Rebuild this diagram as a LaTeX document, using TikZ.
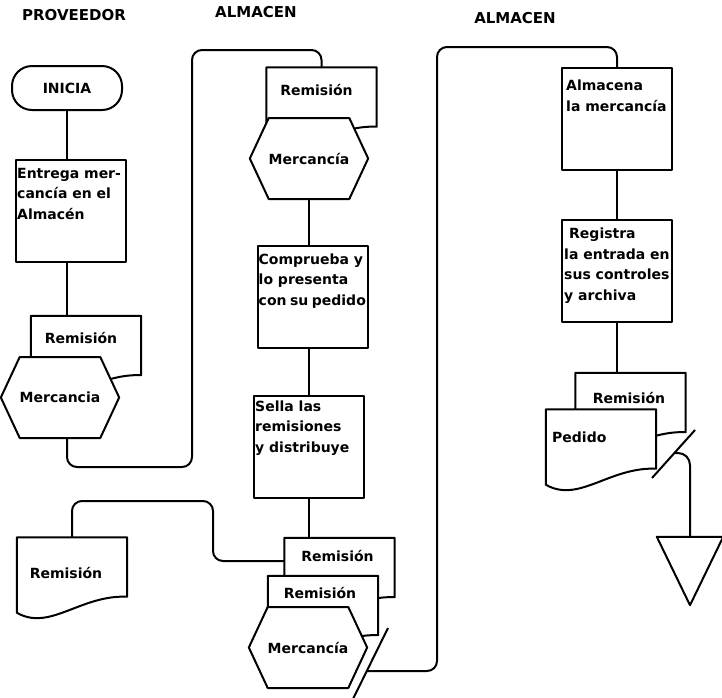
\documentclass[tikz,border=0pt]{standalone}
\usepackage{fontspec}
\setmainfont{DejaVu Sans}
\usetikzlibrary{shapes.symbols,calc}

% document outline with wavy bottom
\newcommand{\docshape}[1]{%
  \draw[flow, fill=white] (#1.north west) -- (#1.north east) -- (#1.south east)
    .. controls +(-47,-2) and +(33,19) .. ($(#1.south west)+(0,16)$) -- cycle;}

\begin{document}
\begin{tikzpicture}[x=1pt, y=-1pt]
  \tikzstyle{flow}=[line width=2pt, line join=round]
  \tikzstyle{title}=[font=\bfseries\fontsize{15}{18}\selectfont]
  \tikzstyle{txt}=[font=\bfseries\fontsize{14}{20.5}\selectfont, align=left, inner sep=0pt]
  \tikzstyle{term}=[draw, flow, rounded corners=20pt, minimum width=110pt, minimum height=44pt, font=\bfseries\fontsize{14}{20.5}\selectfont]
  \tikzstyle{proc}=[draw, flow, minimum width=110pt, minimum height=102pt, inner sep=0pt]
  \tikzstyle{docu}=[minimum width=110pt, minimum height=59pt, inner sep=0pt]
  \tikzstyle{hexa}=[signal, signal to=west and east, signal pointer angle=130, draw, flow, fill=white, minimum width=110pt, minimum height=81pt, inner sep=0pt, font=\bfseries\fontsize{14}{20.5}\selectfont]

  \useasboundingbox (0,0) rectangle (722,697);

  % Titulos
  \node[title] (prov) at (74,15.5) {PROVEEDOR};
  \node[title] (alm1) at (256,12) {ALMACEN};
  \node[title] (alm2) at (515,18) {ALMACEN};

  % Proveedor
  \node[term] (inicia) at (67,88) {INICIA};
  \node[proc] (entrega) at (71,211) {};
  \node[txt, anchor=north west] (entregat) at ([xshift=2pt,yshift=-9pt]entrega.north west) {Entrega mer-\\cancía en el\\Almacén};
  \node[docu] (remA) at (86,345.5) {};
  \docshape{remA}
  \node[txt] (remAt) at (81,338) {Remisión};
  \node[hexa] (hexA) at (60,397.5) {Mercancia};

  % Almacen
  \node[docu] (remB) at (321.5,97) {};
  \docshape{remB}
  \node[txt] (remBt) at (316.5,89.5) {Remisión};
  \node[hexa] (hexB) at (309,158.5) {Mercancía};
  \node[proc] (comprueba) at (312.5,296.5) {};
  \node[txt, anchor=north west] (compruebat) at ([xshift=2pt,yshift=-9pt]comprueba.north west) {Comprueba y\\lo presenta\\con\hspace{0.25em}su\hspace{0.25em}pedido};
  \node[proc] (sella) at (309,446.5) {};
  \node[txt, anchor=north west] (sellat) at ([xshift=2pt,yshift=-6pt]sella.north west) {Sella las\\remisiones\\y distribuye};
  \node[docu] (remC) at (72,567) {};
  \docshape{remC}
  \node[txt] (remCt) at (66,573) {Remisión};
  \node[docu] (remD) at (339.5,567.5) {};
  \docshape{remD}
  \node[txt] (remDt) at (337.5,556) {Remisión};
  \node[docu] (remE) at (323,605.5) {};
  \docshape{remE}
  \node[txt] (remEt) at (320,593) {Remisión};
  \node[hexa] (hexC) at (308,647.5) {Mercancía};

  % Almacen
  \node[proc] (almacena) at (617,119) {};
  \node[txt, anchor=north west] (almacenat) at ([xshift=5pt,yshift=-13pt]almacena.north west) {Almacena\\la mercancía};
  \node[proc] (registra) at (617,271) {};
  \node[txt, anchor=north west] (registrat) at ([xshift=3pt,yshift=-9pt]registra.north west) {\hspace{5pt}Registra\\la entrada en\\sus controles\\y archiva};
  \node[docu] (remF) at (630.5,402.5) {};
  \docshape{remF}
  \node[txt] (remFt) at (629,398) {Remisión};
  \node[docu] (pedido) at (601,439) {};
  \docshape{pedido}
  \node[txt, anchor=west] (pedidot) at (552,437) {Pedido};
  \node[inner sep=0pt, minimum width=66pt, minimum height=68pt] (archivo) at (690,571) {};
  \draw[flow] (archivo.north west) -- (archivo.north east) -- (archivo.south) -- cycle;

  % Cortes
  \coordinate (cutC) at (367,671);
  \coordinate (cutF) at (675,453);
  \draw[flow] ($(cutC)+(21,-43)$) -- ($(cutC)+(-15,30)$);
  \draw[flow] ($(cutF)+(20,-23)$) -- ($(cutF)+(-23,25)$);

  % Lineas
  \draw[flow] (inicia.south) -- (inicia.south |- entrega.north);
  \draw[flow] (entrega.south -| inicia.south) -- (inicia.south |- remA.north);
  \draw[flow, rounded corners=10pt] (hexA.south -| inicia.south) |- (192,467) -- (192,50) -| (remB.north);
  \draw[flow] (hexB.south) -- (hexB.south |- comprueba.north);
  \draw[flow] (comprueba.south -| sella.north) -- (sella.north);
  \draw[flow] (sella.south) -- (sella.south |- remD.north);
  \draw[flow, rounded corners=10pt] ([yshift=6.5pt]remD.west) -| (213,501) -| (remC.north);
  \draw[flow, rounded corners=10pt] (cutC) -| (437,47) -| (almacena.north);
  \draw[flow] (almacena.south) -- (registra.north);
  \draw[flow] (registra.south) -- (registra.south |- remF.north);
  \draw[flow, rounded corners=12pt] (cutF) -| (archivo.north);
\end{tikzpicture}
\end{document}
